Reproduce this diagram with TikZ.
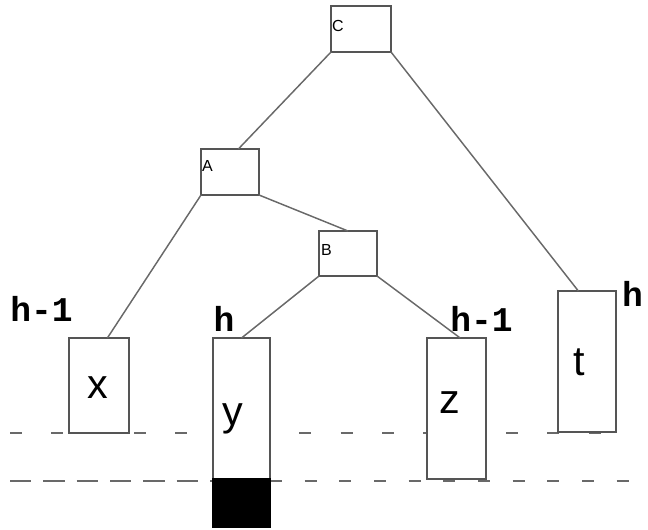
\documentclass[tikz,border=0pt]{standalone}
\usepackage{fontspec}
\setmainfont{Liberation Sans}
\newfontfamily\hfont{Liberation Mono}
\definecolor{gray1}{RGB}{85, 85, 85}
\definecolor{gray2}{RGB}{105, 105, 105}
\begin{document}
\begin{tikzpicture}[x=0.75pt, y=-0.75pt,
  box/.style={draw=gray1, fill=white, line width=1.5pt, inner sep=0pt, outer sep=0pt},
  edge/.style={draw=gray2, line width=1.1pt},
  guide/.style={draw=gray2, line width=2pt},
  tag/.style={inner sep=0pt, font=\fontsize{12}{14}\selectfont},
  leaf/.style={inner sep=0pt, font=\fontsize{31}{36}\selectfont},
  ht/.style={inner sep=0pt, font=\hfont\bfseries\fontsize{26}{30}\selectfont}]
  \useasboundingbox (0,0) rectangle (648,529);
  % level lines
  \draw[guide, dash pattern=on 9pt off 22pt] (10,433) -- (628,433);
  \draw[guide, dash pattern=on 16pt off 9pt] (10,481) -- (213,481);
  \draw[guide, dash pattern=on 9pt off 17pt] (270,481) -- (648,481);
  % inner nodes
  \node[box, minimum width=45pt, minimum height=34.5pt] (nC) at (361,29) {};
  \node[box, minimum width=43.5pt, minimum height=34.5pt] (nA) at (230,172) {};
  \node[box, minimum width=43.5pt, minimum height=33.75pt] (nB) at (348,253.5) {};
  \node[tag] (lC) at (338,26) {C};
  \node[tag] (lA) at (207.5,165.5) {A};
  \node[tag] (lB) at (326.5,249.5) {B};
  % subtrees
  \node[box, minimum width=45pt, minimum height=71.25pt] (nx) at (99,385.5) {};
  \node[box, minimum width=42.75pt, minimum height=105.75pt] (ny) at (241.5,408.5) {};
  \node[box, fill=black, draw=black, minimum width=42.75pt, minimum height=36pt] (nyb) at (241.5,503) {};
  \node[box, minimum width=44.25pt, minimum height=105.75pt] (nz) at (456.5,408.5) {};
  \node[box, minimum width=43.5pt, minimum height=105.75pt] (nt) at (587,361.5) {};
  \node[leaf] (lx) at (98,388) {x};
  \node[leaf] (ly) at (233,419) {y};
  \node[leaf] (lz) at (450,403) {z};
  \node[leaf] (lt) at (579,362) {t};
  % heights
  \node[ht] (h1) at (41.5,309) {h-1};
  \node[ht] (h2) at (224,319) {h};
  \node[ht] (h3) at (481.5,319) {h-1};
  \node[ht] (h4) at (632.5,294) {h};
  \foreach \from/\to in {nC.south west/nA.70, nC.south east/nt.97, nA.south west/nx.80,
    nA.south east/nB.north, nB.south west/ny.north, nB.south east/nz.87}
   \draw[edge] (\from) -- (\to);
\end{tikzpicture}
\end{document}
